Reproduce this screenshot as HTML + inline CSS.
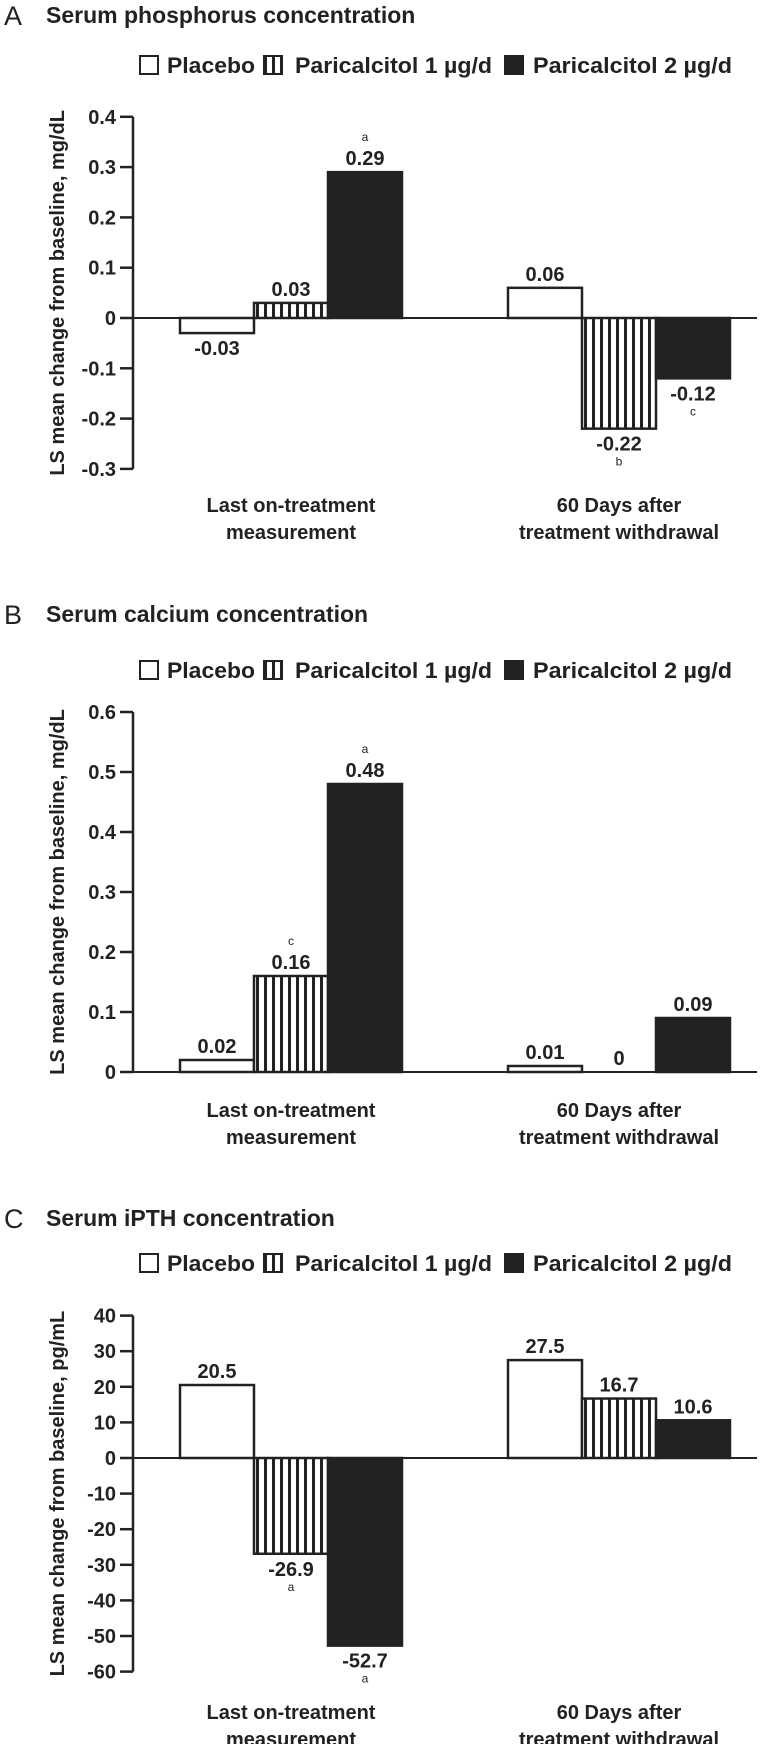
<!DOCTYPE html>
<html><head><meta charset="utf-8"><style>
html,body{margin:0;padding:0;background:#fff}
svg{display:block}
text{font-family:"Liberation Sans",Arial,sans-serif;fill:#222}
</style></head><body>
<svg id="chart" width="760" height="1744" viewBox="0 0 760 1744" xmlns="http://www.w3.org/2000/svg">
<defs>
<pattern id="hatch" patternUnits="userSpaceOnUse" width="8" height="8">
<rect width="8" height="8" fill="#fff"/><rect x="0" y="0" width="3" height="8" fill="#222"/>
</pattern>
</defs>
</svg>
<script>
const groups = [["Last on-treatment","measurement"],["60 Days after","treatment withdrawal"]];
const seriesNames = ["Placebo","Paricalcitol 1 µg/d","Paricalcitol 2 µg/d"];
const phosValues = [[-0.03,0.03,0.29],[0.06,-0.22,-0.12]];
const phosNotes = [["","","a"],["","b","c"]];
const phosTicks = [0.4,0.3,0.2,0.1,0,-0.1,-0.2,-0.3];
const phosTickLabels = ["0.4","0.3","0.2","0.1","0","-0.1","-0.2","-0.3"];
const calValues = [[0.02,0.16,0.48],[0.01,0,0.09]];
const calNotes = [["","c","a"],["","",""]];
const calTicks = [0.6,0.5,0.4,0.3,0.2,0.1,0];
const calTickLabels = ["0.6","0.5","0.4","0.3","0.2","0.1","0"];
const pthValues = [[20.5,-26.9,-52.7],[27.5,16.7,10.6]];
const pthNotes = [["","a","a"],["","",""]];
const pthTicks = [40,30,20,10,0,-10,-20,-30,-40,-50,-60];
const pthTickLabels = ["40","30","20","10","0","-10","-20","-30","-40","-50","-60"];

const svg = document.getElementById('chart');
const NS = "http://www.w3.org/2000/svg";
function mk(tag, attrs, txt){
  const e = document.createElementNS(NS, tag);
  for (const k in attrs) e.setAttribute(k, attrs[k]);
  if (txt !== undefined) e.textContent = txt;
  svg.appendChild(e);
  return e;
}
const axisX = 133, lineEnd = 757;
const groupStart = [180, 508];
const barW = 74;
const fills = ["#fff","url(#hatch)","#222"];
const legendBoxX = [140, 264, 505];
const legendTextX = [167, 295, 533];
const legendTextW = [88, 197, 199];

const panels = [
  {letter:"A", title:"Serum phosphorus concentration", titleY:23, legendY:72, yTop:117, yZero:318, k:503,
   ticks:phosTicks, tickLabels:phosTickLabels, values:phosValues, notes:phosNotes, yTitle:"LS mean change from baseline, mg/dL", catY:512, key:"phos"},
  {letter:"B", title:"Serum calcium concentration", titleY:622, legendY:677, yTop:712, yZero:1072, k:600,
   ticks:calTicks, tickLabels:calTickLabels, values:calValues, notes:calNotes, yTitle:"LS mean change from baseline, mg/dL", catY:1117, key:"cal"},
  {letter:"C", title:"Serum iPTH concentration", titleY:1226, legendY:1270, yTop:1316, yZero:1458, k:3.56,
   ticks:pthTicks, tickLabels:pthTickLabels, values:pthValues, notes:pthNotes, yTitle:"LS mean change from baseline, pg/mL", catY:1719, key:"pth"}
];

panels.forEach(p => {
  const y = v => p.yZero - v * p.k;
  let e;
  e = mk('text', {x:4, y:p.titleY+2, 'font-size':27}, p.letter);
  
  
  e = mk('text', {x:46, y:p.titleY, 'font-size':23, 'font-weight':'bold'}, p.title);
  
  
  seriesNames.forEach((s, i) => {
    const b = mk('rect', {x:legendBoxX[i], y:p.legendY-16, width:18, height:18, fill:fills[i], stroke:'#222', 'stroke-width':2});
    
    
    const t = mk('text', {x:legendTextX[i], y:p.legendY+1, 'font-size':22, 'font-weight':'bold', textLength:legendTextW[i], lengthAdjust:'spacingAndGlyphs'}, s);
    
    
  });
  const yBottom = y(p.ticks[p.ticks.length-1]);
  e = mk('line', {x1:axisX, y1:y(p.ticks[0]), x2:axisX, y2:yBottom, stroke:'#222', 'stroke-width':2.5});
  
  
  p.ticks.forEach((t, i) => {
    const l = mk('line', {x1:120, y1:y(t), x2:axisX, y2:y(t), stroke:'#222', 'stroke-width':2.5});
    
    
    const tx = mk('text', {x:116, y:y(t)+7, 'font-size':20, 'font-weight':'bold', 'text-anchor':'end'}, p.tickLabels[i]);
    
    
  });
  const mid = (y(p.ticks[0]) + yBottom) / 2;
  e = mk('text', {x:0, y:0, 'font-size':20, 'font-weight':'bold', 'text-anchor':'middle', transform:'translate(64,' + mid + ') rotate(-90)'}, p.yTitle);
  
  
  p.values.forEach((grp, gi) => {
    grp.forEach((v, si) => {
      const x0 = groupStart[gi] + si * barW;
      const top = Math.min(y(v), y(0)), h = Math.abs(y(v) - y(0));
      if (h > 0.5) {
        const r = mk('rect', {x:x0, y:top, width:barW, height:h, fill:fills[si], stroke:'#222', 'stroke-width':2.5});
        
        
      }
      const cx = x0 + barW/2;
      const note = p.notes[gi][si];
      let ly;
      if (v >= 0) {
        ly = y(v) - 7;
        if (note) {
          const n = mk('text', {x:cx, y:ly-24, 'font-size':12, 'text-anchor':'middle'}, note);
          
          
        }
      } else {
        ly = y(v) + 22;
        if (note) {
          const n = mk('text', {x:cx, y:ly+15, 'font-size':12, 'text-anchor':'middle'}, note);
          
          
        }
      }
      const vl = mk('text', {x:cx, y:ly, 'font-size':20, 'font-weight':'bold', 'text-anchor':'middle'}, String(v));
      
      
    });
    groups[gi].forEach((line, li) => {
      const c = mk('text', {x:groupStart[gi] + barW*1.5, y:p.catY + li*27, 'font-size':20, 'font-weight':'bold', 'text-anchor':'middle'}, line);
      
      
    });
  });
  e = mk('line', {x1:axisX, y1:y(0), x2:lineEnd, y2:y(0), stroke:'#222', 'stroke-width':2});
  
  
});
</script>
</body></html>
